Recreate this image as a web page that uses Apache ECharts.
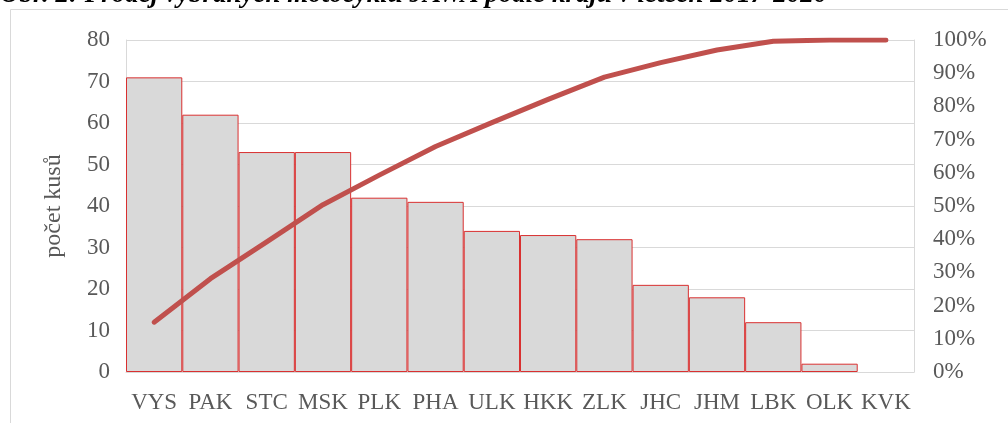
<!DOCTYPE html>
<html>
<head>
<meta charset="utf-8">
<script src="https://cdn.jsdelivr.net/npm/echarts@6/dist/echarts.min.js"></script>
<style>
  html,body{margin:0;padding:0;background:#fff;}
  #chart{width:1008px;height:423px;}
</style>
</head>
<body>
<div id="chart"></div>
<script>
// kraje
const regions = ['VYS','PAK','STC','MSK','PLK','PHA','ULK','HKK','ZLK','JHC','JHM','LBK','OLK','KVK'];
// počet kusů
const counts = [71,62,53,53,42,41,34,33,32,21,18,12,2,0];
// kumulativní podíl
const cumShare = [0.15,0.281,0.392,0.504,0.593,0.679,0.751,0.821,0.888,0.932,0.97,0.996,1.0,1.0];
const titleText = 'Obr. 2: Prodej vybraných motocyklů JAWA podle krajů v letech 2017-2020';

const serif = '"Liberation Serif", "DejaVu Serif", serif';
const labelColor = '#595959';
const gridColor = '#D9D9D9';

const chart = echarts.init(document.getElementById('chart'));

const option = {
    animation:false,
    textStyle:{fontFamily:serif},
    grid:{left:126,right:94,top:40,bottom:51},
    graphic:[
        {
            type:'rect',
            shape:{x:10.5,y:9.5,width:1010,height:430},
            style:{fill:'none',stroke:gridColor,lineWidth:1},
            silent:true
        },
        {
            type:'text',
            x:0,
            y:-5,
            style:{
                text:titleText,
                font:'italic bold 27px ' + serif,
                fill:'#000',
                verticalAlign:'middle'
            }
        }
    ],
    xAxis:{
        type:'category',
        data:regions,
        axisTick:{show:false},
        axisLine:{show:true,lineStyle:{color:gridColor,width:1}},
        axisLabel:{color:labelColor,fontSize:23,fontFamily:serif,margin:19,interval:0}
    },
    yAxis:[
        {
            type:'value',
            min:0,max:80,interval:10,
            name:'počet kusů',
            nameLocation:'middle',
            nameGap:60,
            nameTextStyle:{color:labelColor,fontSize:24,fontFamily:serif},
            axisLine:{show:true,lineStyle:{color:gridColor}},
            axisTick:{show:false},
            axisLabel:{color:labelColor,fontSize:23,fontFamily:serif,margin:16},
            splitLine:{lineStyle:{color:gridColor,width:1}}
        },
        {
            type:'value',
            min:0,max:1,interval:0.1,
            position:'right',
            axisLine:{show:true,lineStyle:{color:gridColor}},
            axisTick:{show:false},
            splitLine:{show:false},
            axisLabel:{
                color:labelColor,fontSize:23,fontFamily:serif,margin:19,
                formatter:v=>Math.round(v*100)+'%'
            }
        }
    ],
    series:[
        {
            type:'bar',
            data:counts.map(v=>({value:v,itemStyle:v===0?{borderWidth:0}:{}})),
            barCategoryGap:'0%',
            itemStyle:{color:'#D9D9D9',borderColor:'#D93030',borderWidth:1}
        },
        {
            type:'line',
            yAxisIndex:1,
            data:cumShare,
            showSymbol:false,
            lineStyle:{color:'#C0504D',width:5,cap:'round',join:'round'},
            z:5
        }
    ]
};

chart.setOption(option);
</script>
</body>
</html>
